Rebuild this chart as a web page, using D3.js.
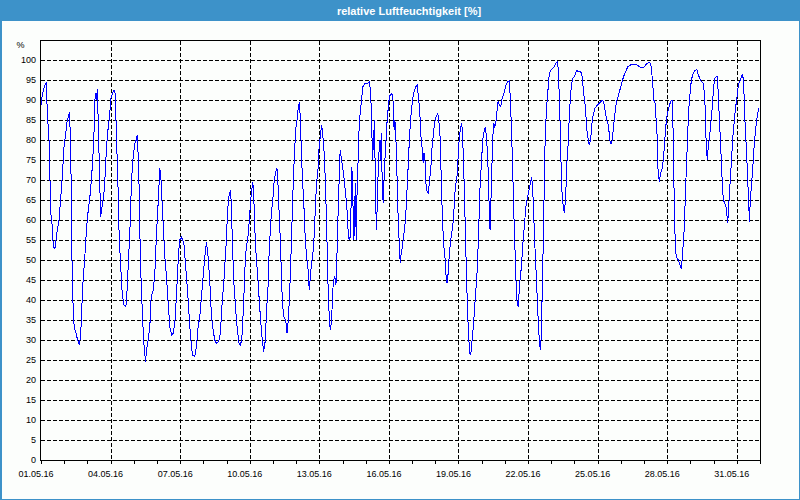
<!DOCTYPE html>
<html><head><meta charset="utf-8">
<script src="https://cdn.jsdelivr.net/npm/d3@7"></script>
<style>body{margin:0;background:#fff}svg{display:block}</style>
</head><body>
<svg id="chart" width="800" height="500"></svg>
<script>
const chartTitle = "relative Luftfeuchtigkeit [%]";
const yUnit = "%";
const yTickValues = [0,5,10,15,20,25,30,35,40,45,50,55,60,65,70,75,80,85,90,95,100];
const startDate = new Date(2016, 4, 1);
const endDate = new Date(2016, 5, 1);
const labelEveryDays = 3;

// hours since 01.05.16 00:00
const hours = [
0,0.7,2.4,4.1,5.5,6.5,8.3,9.3,10.3,11.7,
12.7,14.5,15.5,16.9,18.6,20.3,22,23.8,25.5,27.2,
28.9,29.6,30.7,31.3,31.7,32.4,33.4,34.4,36.2,37.9,
39.6,41,42,43.1,44.4,45.8,47.2,48.9,50.6,52.4,
54.1,55.1,55.8,56.8,57.5,58.2,59.2,60.3,61,61.7,
62.7,63.7,65.1,66.5,67.8,69.6,71,72,73.4,75.4,
76.8,78.2,79.6,80.6,81.6,82.7,84,85.8,87.8,88.9,
90.2,92,93.7,95.4,97.1,98.5,99.5,100.6,101.3,102.3,
103.3,104.4,105.7,106.8,108.2,109.2,110.9,112.6,114,116.1,
117.8,119.5,121.2,123,124,125,126.4,128.1,129.9,131.6,
133.3,135.1,136.8,138.5,139.9,141.3,142.3,143.6,145.4,146.4,
147.8,149.2,150.5,152.3,154,155.7,156.7,159.1,160.8,162.6,
164.3,166,167.7,169.5,171.2,172.9,174.6,176.4,178.1,179.8,
181.5,182.2,184.3,185.7,186.7,187.7,189.1,190.5,191.9,192.9,
194.3,196,196.7,197.4,198.4,199.8,200.8,202.2,203.6,204.9,
206.3,207.7,208.7,209.8,210.8,211.8,213.6,214.6,216,217.3,
219.1,220.1,221.1,222.9,224.6,225.6,227,228.4,230.4,232.2,
233.2,234.9,235.9,237.3,238.4,240.1,241.1,242.5,244.2,245.6,
246.6,247.7,248.7,249.7,251.1,253.2,254.5,255.9,257.3,258.3,
259.4,260.4,261.4,262.5,263.5,264.9,266.3,267.6,268.3,269.3,
270.4,271.4,272.4,273.5,274.9,276.2,277.6,279,280.4,282.1,
283.1,284.2,285.5,286.6,287.6,289,290.4,291.4,292.8,294.2,
295.2,295.9,296.6,297.3,298.3,299.3,300.7,301.7,302.8,304.1,
305.2,306.2,307.2,308.3,309,309.7,311,312.1,313.8,315.8,
316.9,317.9,318.9,320,321,321.7,322.7,323.8,324.5,325.2,
326.2,327.2,328.3,329.3,331.3,333.1,335.1,337.9,340,341.3,
342.4,343.1,343.8,344.4,345.1,346.2,347.2,348.6,350.3,351.3,
352,353.1,354.1,355.5,357.2,358.2,359.9,361.3,362.7,364.1,
364.8,365.5,366.1,366.8,367.9,368.9,369.9,371,371.7,372.7,
373.7,375.1,376.5,377.9,379.6,381.3,383,384.7,386.1,387.8,
389.2,390.6,392,393.4,394.7,395.4,396.1,397.1,398.2,399.6,
400.9,402,403.3,404.7,406.1,407.5,408.9,410.6,411.6,413,
414,415.4,416.8,417.8,418.8,420.2,421.3,422.6,424,425.4,
426.8,427.8,428.8,429.9,430.9,431.9,433,434.3,435.4,436.4,
437.4,438.5,439.5,440.5,441.6,442.6,443.6,444.7,446.1,447.4,
448.8,450.2,451.6,452.9,454.3,455.7,457.1,458.5,459.8,461.2,
462.3,463.3,464,464.7,465.4,466.4,467.5,468.5,469.5,470.6,
471.6,473,474.3,475.7,477.1,478.5,479.9,481.2,483,484.7,
485.7,487.1,488.2,489.5,490.6,491.6,492.7,493.7,494.7,495.7,
497.1,498.4,499.8,501.2,502.2,503.6,505,506.4,507.7,508.7,
509.8,510.8,512.2,513.6,514.6,515.6,516.7,517.4,518.4,519.5,
520.5,521.5,522.9,524.6,526,527.7,529.4,531.1,532.8,534.1,
535.2,536.6,537.7,538.7,539.7,540.8,541.8,542.5,543.5,544.6,
545.6,546.6,547.7,548.7,550.1,551.8,553.2,554.5,555.9,557.7,
559.4,560.4,561.4,562.5,563.2,564.2,565.2,566.3,567.3,568.3,
569.4,570.4,571.8,573.2,574.5,575.9,577.6,579.4,580.7,582.1,
583.1,584.2,585.2,586.6,588,589,590,591.1,592.1,593.1,
594.2,595.2,596.6,597.6,599,600.4,601.7,603.5,605.2,606.9,
608.6,610.4,612.1,613.8,615.5,617.2,619,620.7,622.4,624.1,
625.8,627.6,629.3,630.7,631.4,632.7,634.1,635.5,636.5,637.6,
638.3,639,640,641,642.4,643.5,644.5,645.5,646.5,647.6,
648.6,650,651.4,652.8,653.5,654.2,654.9,655.6,656.2,657.3,
658.3,659.7,660.7,661.8,662.8,663.8,664.9,665.9,666.6,667.2,
668.3,669.3,670.7,672.4,674.1,675.8,677.5,678.6,679.6,681,
682.3,683.7,685.1,686.5,687.5,688.2,688.9,689.6,690.6,691.7,
692.7,694.1,695.1,696.1,697.2,698.5,699.9,701,702,703,
704.1,705.1,706.1,707.5,708.9,709.9,710.6,711.6,712.6,713.7,
714.7,715.7,716.8,717.8,718.8,719.9,720.9,722.3,723.7,725,
726.1,727.1,728.1,729.2,730.2,731.2,732.3,733,734,735,
736.1,737.1,738.1,739.2,740.2,741.6,742.6
];

// relative humidity [%]
const humidity = [
88.8,90.4,92.5,93.8,94.2,87,80,70,61.3,58.3,
53.3,52.9,55,57.5,60,65,70.8,78.3,81.3,85,
86.3,87.1,77.5,67.5,55,45.8,36.7,33.3,31.7,30,
28.8,30.8,36.7,43.3,47.5,52.5,58.3,62.5,65.8,70.8,
77.5,83.3,90,91.7,90,92.7,85,74.2,67.5,60.8,
62.5,64.2,66.7,71.7,78.3,83.3,85.8,90,91.3,92.5,
91.7,80,69.2,58.3,52.5,47.5,41.7,38.8,38.3,41.7,
48.3,57.5,70,75.8,79.2,80,81.3,75.8,70.8,56.7,
46.7,39.6,32.5,27.9,24.6,27.5,30,33.3,40.8,42.5,
46.7,56.7,64.2,72.9,70.8,65.8,59.2,50.8,45.8,39.2,
33.3,31.3,31.7,34.2,40,46.7,51.7,55,55.8,55,
54.2,50,45.8,40,33.3,28.3,26.3,25.8,28.3,33.3,
35.8,40.8,45.8,50.8,54.6,50.8,45,35.8,32.5,30,
29.2,29.2,30,31.7,36.7,40,44.2,50,55,61.7,
65.8,67.5,65,60,51.7,43.3,40,35,31.7,29.2,
28.8,30,34.2,40,46.7,51.7,55,56.7,61.7,65.8,
69.6,66.7,58.3,50,45,40.8,35.8,31.3,27.1,30,
36.7,43.3,50.8,57.5,61.7,65.8,69.2,71.7,72.9,67.5,
60,55,46.7,40,35.8,35,31.7,35,41.7,48.3,
56.7,65,71.7,77.5,82.5,85,88.3,89.6,85,78.3,
70.8,66.7,61.7,55,50.8,48.3,42.5,46.7,50,53.3,
58.3,65,70,72.5,77.5,80.8,83.8,81.7,77.5,70,
61.7,55,48.3,40.8,35.8,32.5,34.6,41.7,45,45.8,
43.8,50.8,60,68.3,75,77.5,75,73.3,70,65,
61.7,56.7,55,55.8,65,73.3,65,55,60.8,69.2,
55,69.2,75.8,84.2,89.2,93.3,94.2,94.2,94.6,90.8,
81.7,75,82.5,77.5,85,65,57.5,70,80,75,
81.7,69.2,64.2,73.3,80.8,85,89.6,91.3,91.5,91.3,
85,82.5,85,83.3,75.8,65.8,58.3,52.5,49.2,51.7,
52.9,55.8,58.3,63.3,71.7,80.8,86.7,90.4,92.1,93.3,
93.8,90.8,86.7,80,77.5,74.2,76.7,76.7,69.2,67.1,
66.7,70,72.5,78.3,81.7,84.6,85.8,86.7,85,80.8,
71.7,60,53.3,51.7,46.7,44.2,46.7,51.7,55,57.5,
60,65,68.3,70,71.7,77.5,80.8,83.3,84.2,80,
73.3,63.3,53.3,44.2,35.8,30.8,26.7,26.3,30,33.3,
38.3,43.3,48.3,57.5,68.3,74.2,80,82.1,83.3,80,
75,68.3,60,57.5,63.3,71.7,80.8,84.2,83.3,84.2,
86.7,89.6,88.8,88.3,90.4,91.3,92.5,93.8,94.6,94.8,
90,80.8,71.7,60,51.7,44.2,39.2,38.3,41.7,45,
48.3,53.3,57.5,61.7,64.2,65.8,67.5,69.2,70.8,68.3,
61.7,55,47.5,40,34.2,30,27.5,30,39.2,51.7,
65,78.3,87.5,92.5,96.7,97.5,97.9,98.3,99.2,99.6,
97.9,89.2,78.3,68.3,65,62.5,61.7,65,69.2,76.7,
79.2,85.8,90,93.3,95.4,95.8,96.7,97.5,97.1,97.1,
96.7,95,91.7,90,88.3,85,81.7,80,78.8,79.6,
81.7,85,86.7,87.9,88.3,88.8,89.2,89.6,90,89.6,
88.3,86.7,85,84.2,81.7,79.2,79.2,80,82.5,85,
87.1,89.2,90.4,91.3,92.5,93.8,95,96.3,97.1,98.2,
98.6,98.8,98.8,98.9,98.9,98.7,98.3,98.1,98.1,98.3,
98.8,99.2,99.3,99.2,98.3,95,90,89.2,85,80.8,
73.3,70.8,69.6,71.7,72.5,74.2,76.7,80,83.3,85.8,
87.1,88.3,89.6,90,89.6,80,69.2,61.7,55,50.8,
50.4,50,49.2,48.3,47.9,51.7,55,59.2,65,69.2,
75.8,82.5,89.2,93.8,96.3,97.1,97.5,97.7,96.7,95.8,
95,94.6,94.2,91.7,86.7,80,76.7,75,79.2,80,
83.3,86.7,90,93.3,95.4,95.8,95.8,90.8,85,80,
74.2,68.3,65,64.2,63.3,60.8,59.2,63.3,67.5,71.7,
75.8,80,83.3,85.8,88.3,90,92.5,94.2,95,96,
96.3,94.2,86.7,80.8,76.7,70,65,59.6,65,68.3,
71.7,75,79.2,81.7,84.2,86.7,87.9
];

const W = 800, H = 500;
const svg = d3.select("#chart");
const blue = "#3d92c9";
const FONT = "'Liberation Sans', Arial, sans-serif";

svg.append("rect").attr("width", W).attr("height", H).attr("fill", "#fcfefc");
svg.append("rect").attr("x", 0).attr("y", 0).attr("width", W).attr("height", 21).attr("fill", blue);
svg.append("rect").attr("x", 0).attr("y", 0).attr("width", 2).attr("height", H).attr("fill", blue);
svg.append("rect").attr("x", W - 1).attr("y", 0).attr("width", 1).attr("height", H).attr("fill", blue);
svg.append("rect").attr("x", 0).attr("y", H - 1).attr("width", W).attr("height", 1).attr("fill", blue);

svg.append("text").attr("x", 409).attr("y", 14.5)
  .attr("text-anchor", "middle").attr("font-family", FONT).attr("font-weight", "bold")
  .attr("font-size", "11px").attr("fill", "#ffffff").text(chartTitle);

const x = d3.scaleTime().domain([startDate, endDate]).range([41, 760]);
const y = d3.scaleLinear().domain([0, 105]).range([460, 40]);

const px = v => Math.round(v) + 0.5;
const grid = svg.append("g").attr("shape-rendering", "crispEdges")
  .attr("stroke", "#000").attr("stroke-width", 1).attr("stroke-dasharray", "4,2");

// horizontal grid
grid.selectAll("line.h").data(yTickValues.filter(v => v > 0)).enter().append("line")
  .attr("x1", 41).attr("x2", 760)
  .attr("y1", d => px(y(d))).attr("y2", d => px(y(d)));

const days = d3.timeDay.range(startDate, d3.timeDay.offset(endDate, 1));
const labelDays = days.filter((d, i) => i % labelEveryDays === 0 && d < endDate);

// vertical grid
grid.selectAll("line.v").data(labelDays.slice(1)).enter().append("line")
  .attr("x1", d => px(x(d))).attr("x2", d => px(x(d)))
  .attr("y1", 41).attr("y2", 460);

// frame
const frame = svg.append("g").attr("shape-rendering", "crispEdges").attr("stroke", "#000").attr("fill", "none");
frame.append("rect").attr("x", 40.5).attr("y", 40.5).attr("width", 720).attr("height", 420);

// day ticks
frame.selectAll("line.t").data(days).enter().append("line")
  .attr("x1", d => px(x(d))).attr("x2", d => px(x(d)))
  .attr("y1", 460).attr("y2", 464);

const fmt = d3.timeFormat("%d.%m.%y");
svg.append("g").selectAll("text").data(labelDays).enter().append("text")
  .attr("x", d => x(d) - 5).attr("y", 477)
  .attr("text-anchor", "middle").attr("font-family", FONT).attr("font-size", "9px")
  .attr("fill", "#000").text(d => fmt(d));

svg.append("g").selectAll("text").data(yTickValues).enter().append("text")
  .attr("x", 36).attr("y", d => y(d) + 3.3)
  .attr("text-anchor", "end").attr("font-family", FONT).attr("font-size", "9px")
  .attr("fill", "#000").text(d => d);

svg.append("text").attr("x", 20.5).attr("y", 47.8).attr("text-anchor", "middle")
  .attr("font-family", FONT).attr("font-size", "9px").attr("fill", "#000").text(yUnit);

const series = hours.map((h, i) => ({ t: new Date(+startDate + h * 3600e3), v: humidity[i] }));
const line = d3.line().x(d => x(d.t)).y(d => y(d.v));
svg.append("path").datum(series)
  .attr("d", line).attr("fill", "none").attr("stroke", "#0000ff").attr("stroke-width", 1)
  .attr("shape-rendering", "crispEdges");
</script>
</body></html>
